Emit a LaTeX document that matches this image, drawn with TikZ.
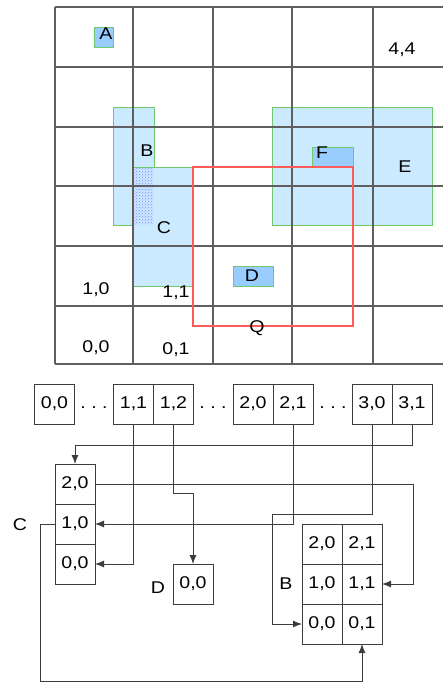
\documentclass[tikz,border=0pt]{standalone}
\usepackage{fontspec}
\setmainfont{Liberation Sans}[FakeStretch=1.15]
\usepackage{xcolor}
\definecolor{lightblue}{RGB}{204,234,255}
\definecolor{midblue}{RGB}{153,204,255}
\definecolor{edgegreen}{RGB}{110,200,110}
\definecolor{qred}{RGB}{255,90,90}
\definecolor{gridgray}{RGB}{95,95,95}
\definecolor{linegray}{RGB}{60,60,60}
\usepackage{tikz}
\usetikzlibrary{arrows.meta, positioning, patterns}

\begin{document}
\begin{tikzpicture}[
    x=1pt, y=-1pt,
    font=\fontsize{17}{20}\selectfont,
    cell/.style={
        rectangle, draw=linegray, line width=0.9pt,
        minimum width=40pt, minimum height=40pt,
        inner sep=0pt, outer sep=0pt
    },
    arr/.style={-{Latex[length=9pt,width=7pt]}, linegray, line width=0.9pt},
    lab/.style={inner sep=0pt},
    region/.style={fill=lightblue, draw=edgegreen, line width=0.8pt},
    hot/.style={fill=midblue, draw=edgegreen, line width=0.8pt},
    gridline/.style={gridgray, line width=1.2pt}
]
\useasboundingbox (0,0) rectangle (443,683);

% --- Objets dans la grille ---
\draw[region] (113,107) rectangle (154,225); % B
\draw[region] (133,167) rectangle (193,286); % C
\fill[pattern=crosshatch dots, pattern color=blue!50] (134,168) rectangle (153,224);
\draw[region] (272,107) rectangle (432,225); % E
\draw[hot] (312,147) rectangle (353,167);    % F
\draw[hot] (94,27) rectangle (113,47);       % A
\draw[hot] (233,266) rectangle (273,286);    % D

% --- Grille ---
\foreach \x in {55,133,213,292,373}
    \draw[gridline] (\x,7) -- (\x,364);
\foreach \y in {7,67,127,186,246,306,364}
    \draw[gridline] (55,\y) -- (443,\y);

% requete Q
\draw[qred, line width=1.3pt] (193,167) rectangle (353,326);

% --- Etiquettes ---
\node[lab] (labA) at (106,34)  {A};
\node[lab] (labB) at (147,151) {B};
\node[lab] (labC) at (164,228) {C};
\node[lab] (labD) at (252,276) {D};
\node[lab] (labE) at (405,167) {E};
\node[lab] (labF) at (322,153) {F};
\node[lab] (labQ) at (257,328) {Q};
\node[lab] (g44) at (402,50)  {4,4};
\node[lab] (g10) at (96,290)  {1,0};
\node[lab] (g11) at (176,293) {1,1};
\node[lab] (g00) at (96,348)  {0,0};
\node[lab] (g01) at (176,350) {0,1};

% --- Repertoire ---
\node[cell] (r00) at (54.5,404) {0,0};
\node[lab]  (dots1) at (94,404) {\vphantom{0,}.\ .\ .};
\node[cell] (r11) at (133.5,404) {1,1};
\node[cell, right=0pt of r11] (r12) {1,2};
\node[lab]  (dots2) at (213,404) {\vphantom{0,}.\ .\ .};
\node[cell] (r20) at (253,404) {2,0};
\node[cell, right=0pt of r20] (r21) {2,1};
\node[lab]  (dots3) at (333,404) {\vphantom{0,}.\ .\ .};
\node[cell] (r30) at (372,404) {3,0};
\node[cell, right=0pt of r30] (r31) {3,1};

% --- Seaux ---
\node[cell] (c20) at (75,484) {2,0};
\node[cell, below=0pt of c20] (c10) {1,0};
\node[cell, below=0pt of c10] (c00) {0,0};
\node[lab] (labCC) at (20,525) {C};

\node[cell] (d00) at (193,584) {0,0};
\node[lab] (labDD) at (158,588) {D};

\node[cell] (b20) at (322,544) {2,0};
\node[cell, right=0pt of b20] (b21) {2,1};
\node[cell, below=0pt of b20] (b10) {1,0};
\node[cell, right=0pt of b10] (b11) {1,1};
\node[cell, below=0pt of b10] (b00) {0,0};
\node[cell, right=0pt of b00] (b01) {0,1};
\node[lab] (labBB) at (286,584) {B};

% --- Pointeurs ---
\draw[arr] (r31.south) -- ++(0,21) -| (c20.north);
\draw[arr] (r11.south) |- (c00.east);
\draw[arr] (r12.south) -- ++(0,69) -| (d00.north);
\draw[arr] (r21.south) |- (c10.east);
\draw[arr] (r30.south) -- ++(0,90) -- ++(-100,0) |- (b00.west);
\draw[arr] (c20.east) -- ++(318,0) |- (b11.east);
\draw[arr] (c10.west) -- ++(-15,0) -- ++(0,157) -| (b01.south);

\end{tikzpicture}
\end{document}
